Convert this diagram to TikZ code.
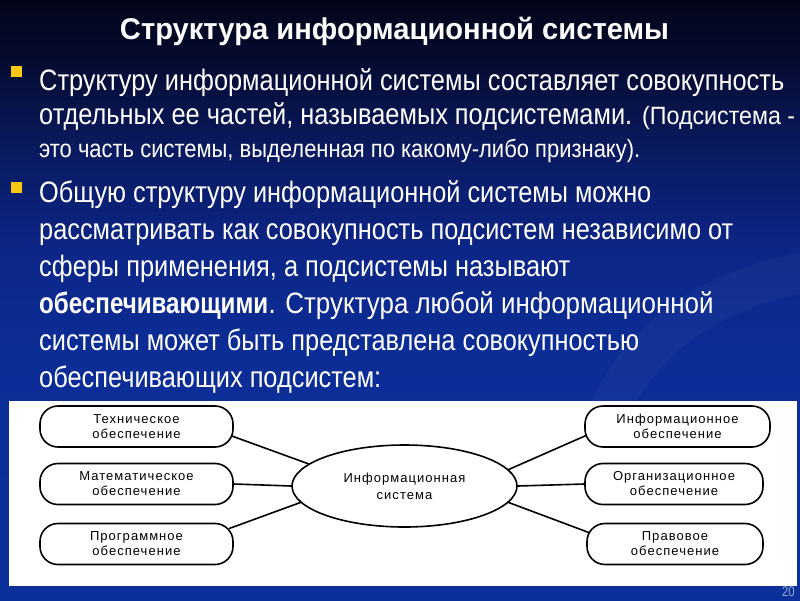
\documentclass[tikz,border=0pt]{standalone}
\usepackage{fontspec}
\usepackage{graphicx}
\usetikzlibrary{shapes.geometric,calc}
\newfontfamily\bodyfont[FakeStretch=0.82]{Liberation Sans}
\newfontfamily\boxfont[LetterSpace=8]{Liberation Sans}
\newcommand\fitw[2]{\resizebox{#1pt}{\height}{#2}}
\newcommand\mainsz{\fontsize{29.5}{34}\selectfont}
\newcommand\smallsz{\fontsize{25}{29}\selectfont}
\definecolor{bgtop}{RGB}{2,5,25}
\definecolor{bgsixty}{RGB}{5,11,48}
\definecolor{bgonefifty}{RGB}{10,26,96}
\definecolor{bgtwofifty}{RGB}{12,38,135}
\definecolor{bgthreefifty}{RGB}{12,45,150}
\definecolor{bgbot}{RGB}{12,48,155}
\definecolor{bulletyellow}{RGB}{250,200,20}
\definecolor{pagenum}{RGB}{150,170,215}
\pgfdeclareverticalshading{slidebg}{100bp}{color(0bp)=(bgbot); color(25bp)=(bgbot); color(45.8bp)=(bgthreefifty); color(54.2bp)=(bgtwofifty); color(62.5bp)=(bgonefifty); color(70bp)=(bgsixty); color(75bp)=(bgtop); color(100bp)=(bgtop)}
\pgfdeclarelayer{backdrop}
\pgfdeclarelayer{conn}
\pgfsetlayers{backdrop,conn,main}
\tikzset{
  txt/.style={anchor=base west, inner sep=0pt, text=white},
  bulletsq/.style={fill=bulletyellow, draw=none},
  pill/.style={draw=black, line width=1.6pt, fill=white, rounded corners=18pt,
    minimum height=41pt, inner sep=0pt, align=center, text=black,
    font=\boxfont\fontsize{13}{15}\selectfont},
  centre/.style={ellipse, draw=black, line width=1.6pt, fill=white,
    minimum width=225pt, minimum height=82pt, inner sep=0pt, align=center, text=black,
    font=\boxfont\fontsize{13}{17}\selectfont},
  connector/.style={draw=black, line width=1.6pt, shorten <=-5pt, shorten >=-5pt}
}
\begin{document}
\begin{tikzpicture}[x=1pt,y=-1pt]
\useasboundingbox (0,0) rectangle (800,600);
\begin{pgfonlayer}{backdrop}
  \shade[shading=slidebg] (0,0) rectangle (800,600);
  \draw[white, opacity=0.03, line width=40pt] (600,430) .. controls (640,330) and (720,285) .. (820,270);
  \node[anchor=base east, inner sep=0pt, text=pagenum, font=\bodyfont\fontsize{14}{16}\selectfont] (pnum) at (795,596) {20};
  \fill[white] (9,401) rectangle (797,586);
\end{pgfonlayer}

% title
\node[anchor=base, inner sep=0pt, text=white] (title) at (394.5,39)
  {\fitw{549}{\bodyfont\bfseries\fontsize{30}{34}\selectfont Структура информационной системы}};

% bullet 1
\fill[bulletsq] (11,66) rectangle (22,77);
\node[txt] (a1) at (39,90) {\fitw{745}{\bodyfont\mainsz Структуру информационной системы составляет совокупность}};
\node[txt] (a2) at (39,124) {\fitw{593}{\bodyfont\mainsz отдельных ее частей, называемых подсистемами.}};
\node[txt] (a2b) at (642,124) {\fitw{153}{\bodyfont\smallsz (Подсистема -}};
\node[txt] (a3) at (39,157) {\fitw{601}{\bodyfont\smallsz это часть системы, выделенная по какому-либо признаку).}};

% bullet 2
\fill[bulletsq] (11,182) rectangle (22,193);
\node[txt] (b1) at (39,202) {\fitw{612}{\bodyfont\mainsz Общую структуру информационной системы можно}};
\node[txt] (b2) at (39,239) {\fitw{694}{\bodyfont\mainsz рассматривать как совокупность подсистем независимо от}};
\node[txt] (b3) at (39,276) {\fitw{531}{\bodyfont\mainsz сферы применения, а подсистемы называют}};
\node[txt] (b4) at (39,313) {\fitw{229}{\bodyfont\bfseries\mainsz обеспечивающими}};
\node[txt] (b4b) at (b4.base east) {\fitw{445}{\bodyfont\mainsz . Структура любой информационной}};
\node[txt] (b5) at (39,350) {\fitw{600}{\bodyfont\mainsz системы может быть представлена совокупностью}};
\node[txt] (b6) at (39,387) {\fitw{342}{\bodyfont\mainsz обеспечивающих подсистем:}};

% diagram
\node[centre] (c) at (404.5,486) {Информационная\\система};
\node[pill, minimum width=193pt] (t) at (136.5,426.5) {Техническое\\обеспечение};
\node[pill, minimum width=193pt] (m) at (136.5,484) {Математическое\\обеспечение};
\node[pill, minimum width=193pt] (p) at (136.5,544) {Программное\\обеспечение};
\node[pill, minimum width=185pt] (i) at (677.5,426.5) {Информационное\\обеспечение};
\node[pill, minimum width=178pt] (o) at (674,484) {Организационное\\обеспечение};
\node[pill, minimum width=176pt] (r) at (675,544) {Правовое\\обеспечение};

\begin{pgfonlayer}{conn}
  \draw[connector] (t.-6.2) -- (c.167.8);
  \draw[connector] (m.east) -- (c.west);
  \draw[connector] (p.10) -- (c.189.7);
  \draw[connector] (i.186.5) -- (c.9.4);
  \draw[connector] (o.west) -- (c.east);
  \draw[connector] (r.172.9) -- (c.-9.8);
\end{pgfonlayer}
\end{tikzpicture}
\end{document}
